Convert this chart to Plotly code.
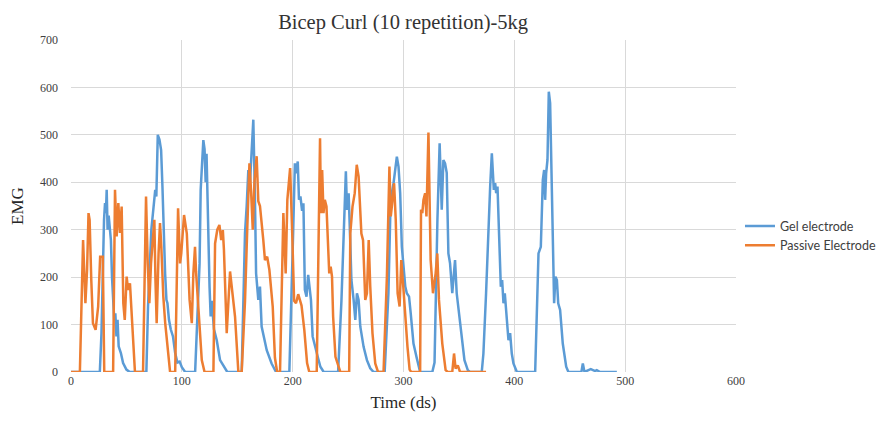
import plotly.graph_objects as go


# -----------------------------
# DATA
# -----------------------------
gel_time = [
    0, 26, 27.5, 28.7, 29.8, 30.7, 31.5, 32.2, 33, 34, 35, 36, 37, 38, 39, 40, 41, 42, 43, 45, 47, 50, 53,
    68, 69.5, 72.5, 74.9, 76, 77, 78.3, 79.8, 81.3, 82.5, 83.7, 84.9, 86.1, 87, 88.4, 90, 92, 94, 96, 98, 100, 103,
    112, 115, 116, 117, 118, 119.4, 120.5, 121.5, 122.3, 123.5, 125, 126, 127, 129, 131.5, 134.5, 139, 141,
    154, 157, 158.5, 160, 161.5, 163, 164.5, 166, 167, 169, 170.5, 172, 176.6, 181, 185,
    197, 199, 200.5, 202, 203, 204.6, 205.7, 207, 208.5, 209.7, 211, 212.5, 214, 216.5, 218, 222.6, 225, 228,
    241, 244, 246, 248, 249, 250.5, 251.8, 253, 255, 256.5, 258, 259.5, 261, 264, 267, 270, 273,
    283, 286.4, 288.4, 291, 292.6, 294, 295.5, 297, 298.5, 300, 301.6, 303, 305, 306.5, 309, 312, 315,
    326, 328, 330.6, 332.6, 334.5, 336, 337.5, 339, 340.5, 342, 344, 346.5, 348, 350, 352, 355, 358, 360,
    370.6, 372.1, 374.5, 376.6, 378.2, 379.7, 380.6, 381.5, 382.7, 383.6, 384.8, 386, 387.8, 389, 390.2,
    391.4, 393.2, 394.7, 396.2, 397.7, 399.2, 402.3,
    418.8, 419.7, 421.8, 423.9, 425.7, 426.9, 427.8, 428.7, 429.9, 431.1, 432.3, 433.5, 434.7, 435.9, 437.1,
    438.4, 439.6, 441.3, 443.7, 446.8, 448.8, 460.5, 461.8, 463.3, 466.9, 469, 472.9, 474.4, 477.4, 492.5,
]
gel_emg = [
    0, 0, 82, 250, 321, 356, 335, 384, 300, 330, 300, 278, 200, 145, 110, 124, 75, 110, 54, 40, 19, 5, 0,
    0, 138, 300, 349, 384, 370, 500, 490, 468, 391, 278, 208, 152, 145, 110, 90, 75, 40, 20, 22, 10, 0,
    0, 150, 229, 384, 420, 489, 470, 400, 460, 300, 180, 117, 150, 90, 67, 25, 8, 0,
    0, 293, 350, 426, 400, 470, 532, 363, 208, 152, 180, 96, 46, 18, 0,
    0, 150, 300, 440, 419, 444, 363, 370, 340, 356, 173, 159, 205, 152, 75, 32, 11, 0,
    0, 150, 300, 423, 342, 377, 285, 194, 152, 110, 166, 152, 96, 53, 25, 8, 0,
    0, 166, 363, 398, 426, 454, 433, 377, 264, 222, 180, 166, 159, 124, 60, 29, 0,
    0, 20, 321, 482, 342, 447, 440, 420, 250, 229, 166, 236, 166, 124, 96, 25, 4, 0,
    0, 39, 166, 307, 391, 461, 419, 384, 398, 377, 391, 307, 180, 194, 145,
    166, 110, 67, 82, 39, 18, 0,
    0, 96, 250, 264, 405, 426, 363, 419, 447, 591, 567, 426, 307, 145, 201,
    194, 145, 131, 60, 11, 0, 0, 18, 0, 4, 6, 2, 4, 0, 0,
]

passive_time = [
    0, 8, 10.9, 13, 14.5, 15.8, 16.8, 17.4, 18.3, 19.8, 22.2, 24.5, 26.3, 28.7, 30,
    38, 39.7, 41.2, 42.7, 44.2, 45.7, 47.2, 48.5, 50.2, 51.5, 53.2, 54.7, 56.2, 57.7,
    65, 67.7, 69.2, 70.7, 72.2, 74.3, 75.2, 76.2, 77.3, 79, 80.3, 81.5, 83.3, 85, 87.8, 89.4,
    94, 96.6, 98.4, 99.5, 102, 104.5, 107, 109, 110.4, 111.9, 112.8, 115, 118, 120.5,
    128.5, 130, 132, 133.9, 135.5, 137, 138, 140.5, 143.5, 148, 151,
    154, 157, 159, 161, 162.5, 164, 165.5, 167.5, 169, 170.5, 173.5, 175, 177, 179, 182, 184, 186,
    188.6, 191.6, 193.7, 195.2, 197.7, 199.5, 201.3, 203, 205, 208, 210.5, 213, 215,
    221.7, 224.7, 225.5, 226.6, 227.8, 229, 230.5, 232, 233, 234.3, 235.5, 236.5, 238.6, 243,
    251, 252, 254, 256, 257.8, 259.5, 262, 263.5, 264.5, 265.5, 267, 268.6, 270, 272, 274.5, 277,
    282, 285, 287.3, 288.5, 289.5, 291.5, 293, 294.7, 296.5, 298, 299.8, 301.6, 303.6, 305.5, 307,
    315, 315.8, 317, 318, 319.5, 320.7, 322.5, 323.5, 324.5, 326.6, 329, 330.5, 332, 335, 338, 340,
    344, 345.6, 347, 349, 351, 374.5,
]
passive_emg = [
    0, 0, 278, 145, 215, 335, 321, 264, 194, 103, 89, 138, 243, 243, 0,
    0, 384, 286, 356, 293, 349, 145, 110, 201, 173, 187, 124, 54, 0,
    0, 370, 229, 145, 229, 300, 321, 194, 103, 250, 314, 264, 159, 103, 40, 0,
    0, 345, 229, 250, 331, 292, 152, 103, 208, 264, 212, 124, 25, 0,
    0, 271, 300, 310, 278, 299, 257, 82, 212, 117, 0,
    0, 150, 300, 440, 380, 300, 400, 455, 360, 350, 278, 236, 243, 215, 138, 30, 0,
    0, 335, 208, 363, 430, 300, 150, 145, 164, 140, 89, 19, 0,
    0, 493, 335, 426, 335, 363, 349, 257, 208, 222, 201, 117, 32, 0,
    0, 292, 349, 377, 437, 412, 292, 278, 208, 152, 166, 278, 180, 82, 18, 0,
    0, 200, 433, 328, 349, 398, 321, 166, 138, 236, 180, 110, 53, 5, 0,
    0, 342, 335, 363, 377, 328, 505, 377, 236, 166, 208, 250, 152, 60, 4, 0,
    0, 39, 7, 14, 0, 0,
]

title_text = "Bicep Curl (10 repetition)-5kg"
x_title = "Time (ds)"
y_title = "EMG"

GRID = "#d9d9d9"
TICK = "#404040"
SERIF = "Liberation Serif, Times New Roman, serif"
SANS = "Lato, Open Sans, Liberation Sans, sans-serif"


# -----------------------------
# FIGURE
# (the page body adds an 8px offset, so the figure is 8px smaller and margins shifted)
# -----------------------------
fig = go.Figure()
fig.add_trace(go.Scatter(
    x=gel_time, y=gel_emg, mode="lines", name="Gel electrode",
    line=dict(color="#5b9bd5", width=2.5),
))
fig.add_trace(go.Scatter(
    x=passive_time, y=passive_emg, mode="lines", name="Passive Electrode",
    line=dict(color="#ed7d31", width=2.5),
))

fig.update_layout(
    width=878, height=421,
    margin=dict(l=63, r=150, t=32, b=57, autoexpand=False),
    paper_bgcolor="white", plot_bgcolor="white",
    title=dict(text=title_text, x=0.45, xanchor="center", y=0.968, yanchor="middle",
               font=dict(family=SERIF, size=20.5, color="#333333")),
    legend=dict(x=1.006, y=0.41, xanchor="left", yanchor="middle",
                font=dict(family=SANS, size=12.5, color="#404040"),
                itemwidth=30, tracegroupgap=4),
    showlegend=True,
)
fig.update_xaxes(
    range=[0, 600], dtick=100, showgrid=True, gridcolor=GRID, gridwidth=1,
    zeroline=False, showline=False, ticks="", automargin=False,
    tickfont=dict(family=SERIF, size=12, color=TICK),
    title=dict(text=x_title, font=dict(family=SERIF, size=17, color="#262626"), standoff=9),
)
fig.update_yaxes(
    range=[0, 700], dtick=100, showgrid=True, gridcolor=GRID, gridwidth=1,
    zeroline=False, showline=False, ticks="", ticklabelstandoff=12, automargin=False,
    tickfont=dict(family=SERIF, size=12, color=TICK),
    title=dict(text=y_title, font=dict(family=SERIF, size=17, color="#262626"), standoff=26),
)
fig.write_html("out.html")
